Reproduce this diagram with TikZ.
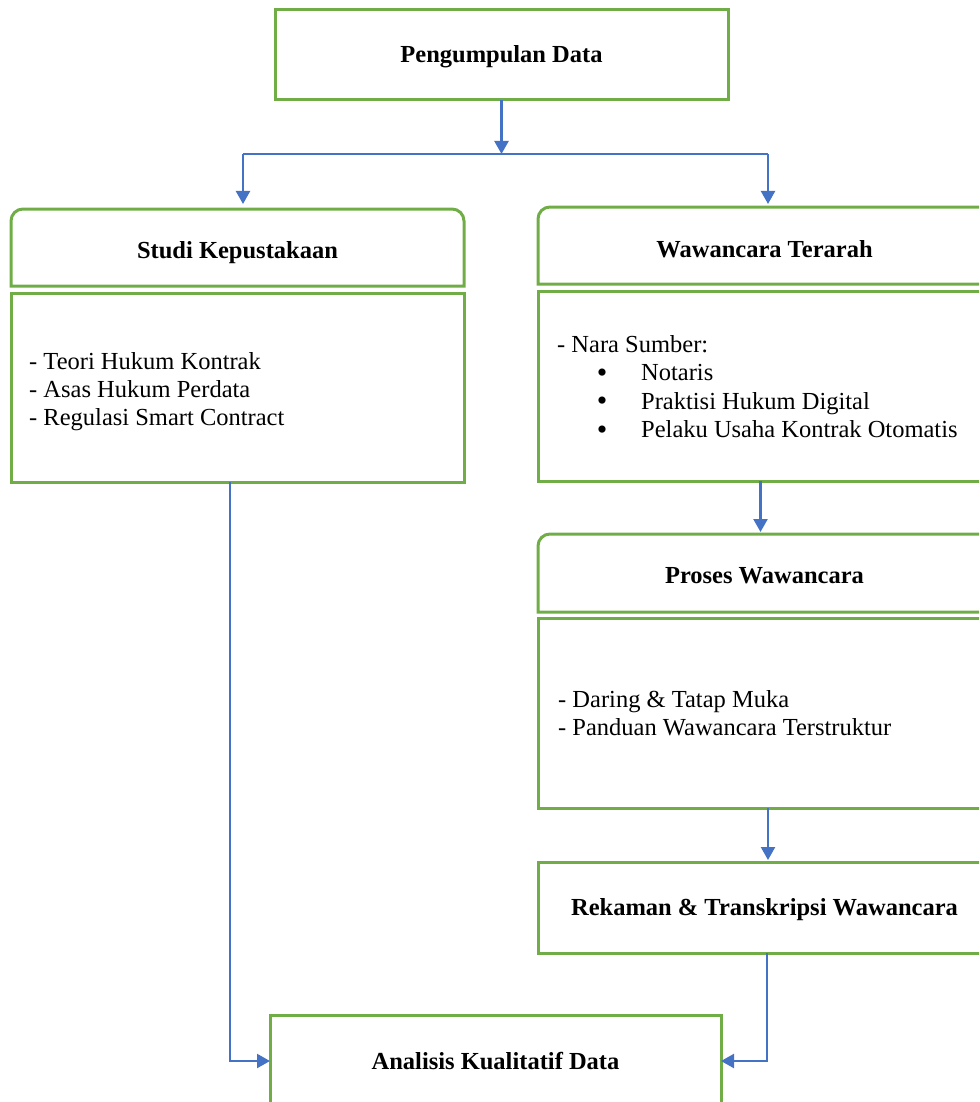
\documentclass[tikz,border=0pt]{standalone}
\usepackage{fontspec}
\setmainfont{Liberation Serif}
\usetikzlibrary{arrows.meta}
\definecolor{boxgreen}{HTML}{70AD47}
\definecolor{linkblue}{HTML}{4472C4}
\begin{document}
\begin{tikzpicture}[x=1pt,y=-1pt,
  box/.style={draw=boxgreen,line width=3pt,inner sep=0pt,outer sep=0pt,anchor=north west},
  hdr/.style={draw=none,inner sep=0pt,outer sep=0pt,anchor=north west},
  hdrline/.style={draw=boxgreen,line width=3pt},
  title/.style={inner sep=0pt,anchor=base,font=\fontsize{24.5}{28.5}\selectfont\bfseries},
  item/.style={inner sep=0pt,anchor=base west,font=\fontsize{24.5}{28.5}\selectfont},
  bul/.style={inner sep=0pt,anchor=base,font=\fontsize{30}{30}\selectfont},
  link/.style={draw=linkblue,line width=2.3pt,-{Triangle[length=13pt,width=14pt]}},
  linkline/.style={draw=linkblue,line width=2.3pt}
]
\useasboundingbox (0,0) rectangle (979,1102);
\clip (0,0) rectangle (979,1102);

% boxes
\node[box,minimum width=453pt,minimum height=90pt] (top) at (275,10) {};
\node[hdr,minimum width=453pt,minimum height=77pt] (studi) at (11,209) {};
\node[box,minimum width=453pt,minimum height=189pt] (lbody) at (11,293) {};
\node[hdr,minimum width=453pt,minimum height=77pt] (waw) at (538,207) {};
\node[box,minimum width=453pt,minimum height=190pt] (rbody) at (538,291) {};
\node[hdr,minimum width=453pt,minimum height=78pt] (proses) at (538,534) {};
\node[box,minimum width=453pt,minimum height=190pt] (pbody) at (538,618) {};
\node[box,minimum width=453pt,minimum height=91pt] (rek) at (538,862) {};
\node[box,minimum width=451pt,minimum height=92pt] (anal) at (270,1015) {};

% header outlines: rounded top corners, square bottom corners
\foreach \h in {studi,waw,proses}{
  \draw[hdrline] (\h.south west) -- (\h.west) [rounded corners=12pt] -- (\h.north west) -- (\h.north east) -- (\h.east) [sharp corners] -- (\h.south east) -- cycle;
}

% titles
\node[title] (topT) at (501.5,63) {Pengumpulan Data};
\node[title] (studiT) at (237.5,258) {Studi Kepustakaan};
\node[title] (wawT) at (764.5,257) {Wawancara Terarah};
\node[title] (prosesT) at (764.5,583) {Proses Wawancara};
\node[title] (rekT) at (764.5,915) {Rekaman \& Transkripsi Wawancara};
\node[title] (analT) at (495.5,1069) {Analisis Kualitatif Data};

% left body text
\node[item] (l1) at (29,369) {- Teori Hukum Kontrak};
\node[item] (l2) at (29,397) {- Asas Hukum Perdata};
\node[item] (l3) at (29,425) {- Regulasi Smart Contract};

% right body text
\node[item] (r0) at (557,352) {- Nara Sumber:};
\node[bul] (b1) at (602,382) {•};
\node[bul] (b2) at (602,410.5) {•};
\node[bul] (b3) at (602,439) {•};
\node[item] (r1) at (641,380.5) {Notaris};
\node[item] (r2) at (641,409) {Praktisi Hukum Digital};
\node[item] (r3) at (641,437.5) {Pelaku Usaha Kontrak Otomatis};

% proses body text
\node[item] (p1) at (558,707.5) {- Daring \& Tatap Muka};
\node[item] (p2) at (558,735.5) {- Panduan Wawancara Terstruktur};

% connectors
\coordinate (split) at (501.5,154);
\coordinate (splitL) at (243,154);
\coordinate (splitR) at (768,154);
\draw[link] (top.south) -- (split);
\draw[linkline] (splitL) -- (splitR);
\draw[link,shorten >=5pt] (splitL) -- (studi.north -| splitL);
\draw[link,shorten >=3pt] (splitR) -- (waw.north -| splitR);
\draw[link,shorten >=2pt] ([xshift=-4pt]rbody.south) -- ([xshift=-4pt]proses.north);
\draw[link,shorten >=2pt] ([xshift=3.5pt]pbody.south) -- ([xshift=3.5pt]rek.north);
\draw[link] ([xshift=2.5pt]rek.south) |- (anal.east);
\draw[link] ([xshift=-7.5pt]lbody.south) |- (anal.west);
\end{tikzpicture}
\end{document}
